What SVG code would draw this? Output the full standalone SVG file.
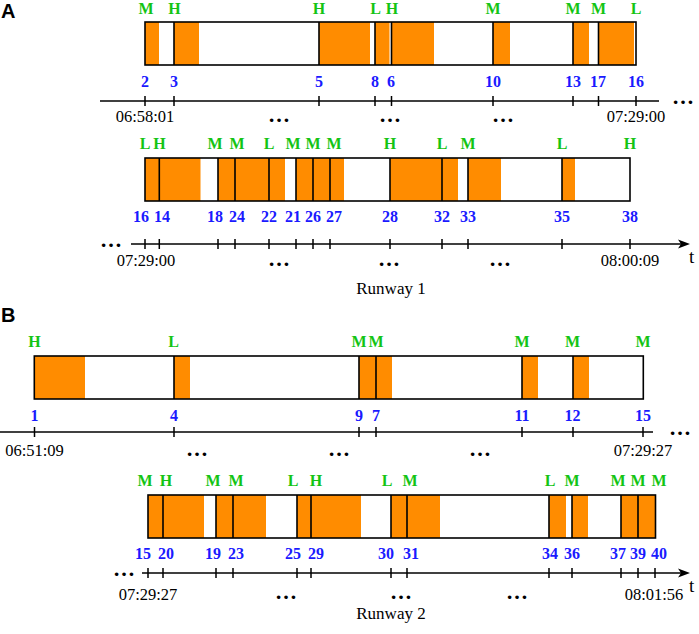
<svg xmlns="http://www.w3.org/2000/svg" width="699" height="634" viewBox="0 0 699 634">
<defs>
<marker id="arrow" viewBox="0 0 12 10" refX="3" refY="5" markerWidth="12" markerHeight="10" markerUnits="userSpaceOnUse" orient="auto">
<path d="M0,0.5 L12,5 L0,9.5 L3,5 z" fill="#000"/>
</marker>
<style>
.bg{fill:#fff}
.seg{fill:#ff8c00}
.bar{fill:none;stroke:#000;stroke-width:1.6}
.dv{stroke:#000;stroke-width:1.6;fill:none}
.lab{font-family:"Liberation Serif",serif;font-weight:bold;font-size:16px;fill:#14c414;text-anchor:middle}
.num{font-family:"Liberation Serif",serif;font-weight:bold;font-size:16px;fill:#1a1aff;text-anchor:middle}
.time{font-family:"Liberation Serif",serif;font-size:16.5px;fill:#000;text-anchor:middle}
.cap{font-family:"Liberation Serif",serif;font-size:17px;fill:#000;text-anchor:middle}
.tt{font-family:"Liberation Serif",serif;font-size:19px;fill:#000}
.axis{stroke:#000;stroke-width:1.5;fill:none}
.tick{stroke:#000;stroke-width:1.5;fill:none}
.dots{font-family:"Liberation Serif",serif;font-weight:bold;font-size:22px;fill:#000;text-anchor:middle}
.panel{font-family:"Liberation Sans",Arial,sans-serif;font-weight:bold;font-size:20px;fill:#000}
</style>
</defs>

<text class="panel" x="1" y="18">A</text>
<text class="panel" x="1" y="322">B</text>

<!-- Runway 1, first bar -->
<g id="bar-a1">
<rect class="bg" x="145" y="22" width="491" height="43"/>
<rect class="seg" x="145" y="22" width="14" height="43"/>
<rect class="seg" x="174" y="22" width="25" height="43"/>
<rect class="seg" x="319" y="22" width="51" height="43"/>
<rect class="seg" x="375" y="22" width="14.5" height="43"/>
<rect class="seg" x="391.5" y="22" width="42.5" height="43"/>
<rect class="seg" x="493" y="22" width="17" height="43"/>
<rect class="seg" x="573" y="22" width="16" height="43"/>
<rect class="seg" x="598.5" y="22" width="35.5" height="43"/>
<path class="dv" d="M174,22v43M319,22v43M375,22v43M391.5,22v43M493,22v43M573,22v43M598.5,22v43"/>
<rect class="bar" x="145" y="22" width="491" height="43"/>
<text class="lab" y="14"><tspan x="146">M</tspan><tspan x="174.5">H</tspan><tspan x="319">H</tspan><tspan x="375.5">L</tspan><tspan x="392">H</tspan><tspan x="493">M</tspan><tspan x="573">M</tspan><tspan x="598.5">M</tspan><tspan x="636">L</tspan></text>
<text class="num" y="87"><tspan x="145">2</tspan><tspan x="174">3</tspan><tspan x="319">5</tspan><tspan x="375">8</tspan><tspan x="391">6</tspan><tspan x="493">10</tspan><tspan x="573">13</tspan><tspan x="598">17</tspan><tspan x="636">16</tspan></text>
</g>

<!-- Runway 1, second bar -->
<g id="bar-a2">
<rect class="bg" x="145" y="158" width="485" height="43"/>
<rect class="seg" x="145" y="158" width="55.5" height="43"/>
<rect class="seg" x="218" y="158" width="67" height="43"/>
<rect class="seg" x="296" y="158" width="48" height="43"/>
<rect class="seg" x="390" y="158" width="68" height="43"/>
<rect class="seg" x="468" y="158" width="33" height="43"/>
<rect class="seg" x="562" y="158" width="13" height="43"/>
<path class="dv" d="M159.3,158v43M218,158v43M235,158v43M269,158v43M296,158v43M313,158v43M330,158v43M390,158v43M442,158v43M468,158v43M562,158v43"/>
<rect class="bar" x="145" y="158" width="485" height="43"/>
<text class="lab" y="149"><tspan x="145">L</tspan><tspan x="159.5">H</tspan><tspan x="215">M</tspan><tspan x="237">M</tspan><tspan x="269">L</tspan><tspan x="293">M</tspan><tspan x="313">M</tspan><tspan x="334">M</tspan><tspan x="390">H</tspan><tspan x="442">L</tspan><tspan x="468">M</tspan><tspan x="562">L</tspan><tspan x="630">H</tspan></text>
<text class="num" y="222"><tspan x="141">16</tspan><tspan x="162">14</tspan><tspan x="215">18</tspan><tspan x="237">24</tspan><tspan x="269">22</tspan><tspan x="293">21</tspan><tspan x="313">26</tspan><tspan x="334">27</tspan><tspan x="390">28</tspan><tspan x="442">32</tspan><tspan x="468">33</tspan><tspan x="562">35</tspan><tspan x="630">38</tspan></text>
</g>

<!-- Runway 2, first bar -->
<g id="bar-b1">
<rect class="bg" x="34.3" y="356" width="609" height="43"/>
<rect class="seg" x="34.3" y="356" width="50.7" height="43"/>
<rect class="seg" x="174" y="356" width="16" height="43"/>
<rect class="seg" x="359" y="356" width="33" height="43"/>
<rect class="seg" x="522" y="356" width="16" height="43"/>
<rect class="seg" x="573" y="356" width="16" height="43"/>
<path class="dv" d="M174,356v43M359,356v43M376,356v43M522,356v43M573,356v43"/>
<rect class="bar" x="34.3" y="356" width="609" height="43"/>
<text class="lab" y="347"><tspan x="34.5">H</tspan><tspan x="173.5">L</tspan><tspan x="359">M</tspan><tspan x="376">M</tspan><tspan x="522">M</tspan><tspan x="572.5">M</tspan><tspan x="643">M</tspan></text>
<text class="num" y="421"><tspan x="34.5">1</tspan><tspan x="174">4</tspan><tspan x="359">9</tspan><tspan x="376">7</tspan><tspan x="522">11</tspan><tspan x="572.5">12</tspan><tspan x="643">15</tspan></text>
</g>

<!-- Runway 2, second bar -->
<g id="bar-b2">
<rect class="bg" x="148" y="495" width="507.5" height="43"/>
<rect class="seg" x="148" y="495" width="56" height="43"/>
<rect class="seg" x="216" y="495" width="50" height="43"/>
<rect class="seg" x="297" y="495" width="64" height="43"/>
<rect class="seg" x="391" y="495" width="49" height="43"/>
<rect class="seg" x="549" y="495" width="17" height="43"/>
<rect class="seg" x="572" y="495" width="16" height="43"/>
<rect class="seg" x="621" y="495" width="34.5" height="43"/>
<path class="dv" d="M163,495v43M216,495v43M233,495v43M297,495v43M311,495v43M391,495v43M407,495v43M549,495v43M572,495v43M621,495v43M638,495v43"/>
<rect class="bar" x="148" y="495" width="507.5" height="43"/>
<text class="lab" y="486"><tspan x="145">M</tspan><tspan x="166">H</tspan><tspan x="213">M</tspan><tspan x="236">M</tspan><tspan x="293">L</tspan><tspan x="316">H</tspan><tspan x="387">L</tspan><tspan x="410">M</tspan><tspan x="550">L</tspan><tspan x="572">M</tspan><tspan x="618">M</tspan><tspan x="638">M</tspan><tspan x="659">M</tspan></text>
<text class="num" y="559"><tspan x="143">15</tspan><tspan x="166">20</tspan><tspan x="213">19</tspan><tspan x="236">23</tspan><tspan x="293">25</tspan><tspan x="316">29</tspan><tspan x="386">30</tspan><tspan x="411">31</tspan><tspan x="550">34</tspan><tspan x="572">36</tspan><tspan x="618">37</tspan><tspan x="638">39</tspan><tspan x="659">40</tspan></text>
</g>

<!-- time axes -->
<g id="connectors">
<line class="axis" x1="100" y1="101" x2="659" y2="101"/>
<path class="tick" d="M145,96v10M174,96v10M319,96v10M375,96v10M391.5,96v10M493,96v10M573,96v10M598.5,96v10M636,96v10"/>
<line class="axis" x1="131" y1="244" x2="681" y2="244" marker-end="url(#arrow)"/>
<path class="tick" d="M145,239v10M159.3,239v10M218,239v10M235,239v10M269,239v10M296,239v10M313,239v10M330,239v10M390,239v10M442,239v10M468,239v10M562,239v10M630,239v10"/>
<line class="axis" x1="0" y1="432" x2="653" y2="432"/>
<path class="tick" d="M34.5,427v10M174,427v10M359,427v10M376,427v10M522,427v10M573,427v10M643,427v10"/>
<line class="axis" x1="142" y1="573" x2="681" y2="573" marker-end="url(#arrow)"/>
<path class="tick" d="M148,568v10M163,568v10M216,568v10M233,568v10M297,568v10M311,568v10M391,568v10M407,568v10M549,568v10M572,568v10M621,568v10M638,568v10M655,568v10"/>
</g>

<g id="axis-labels">
<text class="dots" x="683" y="104">…</text>
<text class="dots" x="111" y="247">…</text>
<text class="dots" x="680" y="435">…</text>
<text class="dots" x="124" y="576">…</text>
<text class="dots" y="122"><tspan x="279">…</tspan><tspan x="390">…</tspan><tspan x="503">…</tspan></text>
<text class="dots" y="266"><tspan x="279">…</tspan><tspan x="389">…</tspan><tspan x="500">…</tspan></text>
<text class="dots" y="456"><tspan x="197">…</tspan><tspan x="339">…</tspan><tspan x="480">…</tspan></text>
<text class="dots" y="599"><tspan x="286">…</tspan><tspan x="401">…</tspan><tspan x="517">…</tspan></text>
<text class="time" y="122"><tspan x="145">06:58:01</tspan><tspan x="636">07:29:00</tspan></text>
<text class="time" y="266"><tspan x="146">07:29:00</tspan><tspan x="630">08:00:09</tspan></text>
<text class="time" y="456"><tspan x="34.5">06:51:09</tspan><tspan x="643">07:29:27</tspan></text>
<text class="time" y="600"><tspan x="148">07:29:27</tspan><tspan x="654">08:01:56</tspan></text>
<text class="tt" x="689" y="263">t</text>
<text class="tt" x="689" y="592">t</text>
<text class="cap" x="391" y="294">Runway 1</text>
<text class="cap" x="391" y="619">Runway 2</text>
</g>
</svg>
